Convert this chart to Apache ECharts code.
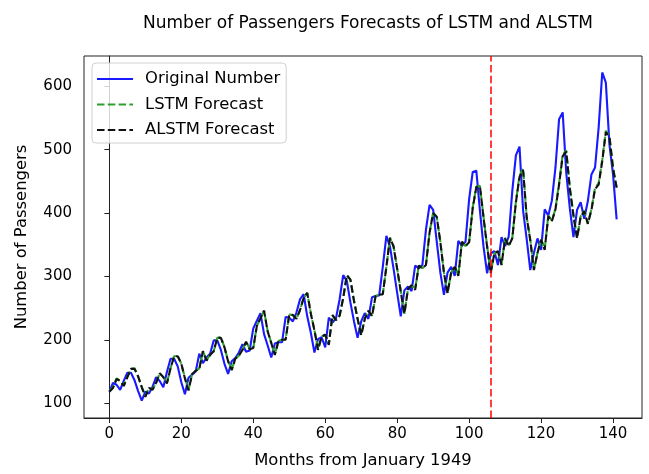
<!DOCTYPE html>
<html>
<head>
<meta charset="utf-8">
<script src="https://cdn.jsdelivr.net/npm/echarts@6/dist/echarts.min.js"></script>
<style>html,body{margin:0;padding:0;background:#fff}#chart{width:649px;height:474px}</style>
</head>
<body>
<div id="chart"></div>
<script>
// Original monthly passengers (months 0..141 from January 1949)
const originalNumber = [118,132,129,121,135,148,148,136,119,104,118,115,126,141,135,125,149,170,170,158,133,114,140,145,150,178,163,172,178,199,199,184,162,146,166,171,180,193,181,183,218,230,242,209,191,172,194,196,196,236,235,229,243,264,272,237,211,180,201,204,188,235,227,234,264,302,293,259,229,203,229,242,233,267,269,270,315,364,347,312,274,237,278,284,277,317,313,318,374,413,405,355,306,271,306,315,301,356,348,355,422,465,467,404,347,305,336,340,318,362,348,363,435,491,505,404,359,310,337,360,342,406,396,420,472,548,559,463,407,362,405,417,391,419,461,472,535,622,606,508,461,390];
const lstmForecast = [119,125,139,135,128,141,154,155,142,126,111,124,122,132,147,141,132,155,174,175,162,140,121,146,151,155,182,168,176,182,203,204,188,167,153,170,175,184,197,186,187,222,234,246,214,195,177,198,200,201,240,239,233,247,266,274,242,215,185,205,208,193,239,231,238,266,302,295,262,233,208,233,246,238,269,271,272,315,361,348,312,277,241,280,286,280,317,313,318,369,401,394,355,306,274,306,315,302,355,348,354,409,442,443,394,348,306,336,341,319,361,349,361,418,459,470,394,358,311,337,359,343,396,388,407,447,492,499,440,397,361,395,404,384,406,440,447,484,530,522,472,441];
const alstmForecast = [118,124,138,135,127,141,154,154,142,125,110,124,121,132,147,141,131,155,174,174,162,139,120,146,151,154,182,167,176,182,203,203,188,166,152,170,175,184,197,185,187,222,234,246,213,195,176,198,200,200,240,239,233,247,266,274,241,215,184,205,208,192,239,231,238,266,302,295,261,233,207,233,246,237,269,271,272,315,361,347,312,276,241,280,286,279,317,313,318,369,400,394,354,306,273,306,315,301,355,348,354,408,441,442,393,347,305,336,340,318,360,348,360,417,457,468,393,357,310,337,358,342,395,387,406,445,490,497,438,396,360,394,403,383,405,438,445,482,528,520,470,440];
const xTicks = [0,20,40,60,80,100,120,140];
const yTicks = [100,200,300,400,500,600];
const splitMonth = 106;

const toPairs = arr => arr.map((v, i) => [i, v]);
const font = 'DejaVu Sans';

const chart = echarts.init(document.getElementById('chart'), null, {renderer: 'canvas'});
chart.setOption({
  animation: false,
  backgroundColor: '#fff',
  title: {
    text: 'Number of Passengers Forecasts of LSTM and ALSTM',
    left: 363, top: 10, textAlign: 'center',
    textStyle: {fontFamily: font, fontSize: 17, fontWeight: 'normal', color: '#000'}
  },
  legend: {
    orient: 'vertical', left: 92, top: 63,
    padding: [7, 6, 4, 4], itemGap: 7.5, itemWidth: 36, itemHeight: 14,
    backgroundColor: 'rgba(255,255,255,0.8)', borderColor: '#d0d0d0', borderWidth: 1, borderRadius: 4,
    itemStyle: {opacity: 0},
    textStyle: {fontFamily: font, fontSize: 16.4, lineHeight: 18, color: '#000', padding: [0, 0, 0, 7]},
    data: ['Original Number', 'LSTM Forecast', 'ALSTM Forecast']
  },
  grid: {left: 84, right: 7, top: 56, bottom: 55, show: true, borderColor: '#222', borderWidth: 1},
  xAxis: {
    type: 'value', min: -7.05, max: 148.05,
    name: 'Months from January 1949', nameLocation: 'middle', nameGap: 35,
    nameTextStyle: {fontFamily: font, fontSize: 16.4, color: '#000'},
    axisLine: {show: true, lineStyle: {color: '#222', width: 1}},
    axisTick: {show: true, length: 5, lineStyle: {color: '#222'}, customValues: xTicks},
    axisLabel: {fontFamily: font, fontSize: 15, color: '#000', margin: 9, customValues: xTicks},
    splitLine: {show: false}
  },
  yAxis: {
    type: 'value', min: 76.5, max: 648,
    name: 'Number of Passengers', nameLocation: 'middle', nameGap: 54.5,
    nameTextStyle: {fontFamily: font, fontSize: 16.4, color: '#000'},
    axisLine: {show: true, lineStyle: {color: '#222', width: 1}},
    axisTick: {show: true, length: 5, lineStyle: {color: '#222'}, customValues: yTicks},
    axisLabel: {fontFamily: font, fontSize: 15, color: '#000', margin: 12, customValues: yTicks},
    splitLine: {show: false}
  },
  series: [
    {
      name: 'Original Number', type: 'line', data: toPairs(originalNumber),
      symbol: 'none', lineStyle: {color: '#1a1aff', width: 2.1}, itemStyle: {color: '#1a1aff'}, z: 2
    },
    {
      name: 'LSTM Forecast', type: 'line', data: toPairs(lstmForecast),
      symbol: 'none', lineStyle: {color: '#2ca02c', width: 2.1, type: [7.5, 3.3]}, itemStyle: {color: '#2ca02c'}, z: 3
    },
    {
      name: 'ALSTM Forecast', type: 'line', data: toPairs(alstmForecast),
      symbol: 'none', lineStyle: {color: '#111', width: 2.1, type: [7.5, 3.3]}, itemStyle: {color: '#111'}, z: 4,
      markLine: {
        symbol: 'none', silent: true, label: {show: false}, animation: false,
        lineStyle: {color: 'rgba(255,0,0,0.75)', width: 2, type: [7.5, 3.3]},
        data: [{xAxis: splitMonth}]
      }
    }
  ]
});
</script>
</body>
</html>
